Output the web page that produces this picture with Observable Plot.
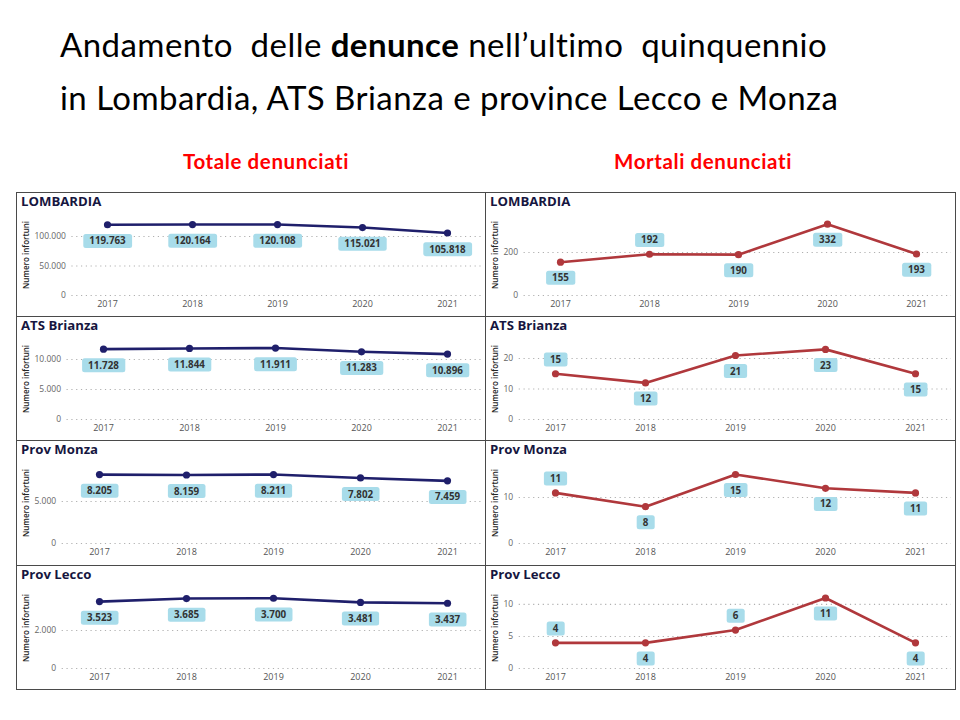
<!DOCTYPE html>
<html><head><meta charset="utf-8">
<script src="https://cdn.jsdelivr.net/npm/d3@7"></script>
<script src="https://cdn.jsdelivr.net/npm/@observablehq/plot@0.6"></script>
<style>
body{margin:0;background:#fff;}
#root{position:relative;width:960px;height:720px;overflow:hidden;font-family:"Open Sans",sans-serif;background:#fff;}
.title{position:absolute;left:60px;font-family:Lato,sans-serif;font-size:33px;line-height:33px;letter-spacing:0.45px;color:#000;white-space:pre;}
.colhead{position:absolute;font-family:Lato,sans-serif;font-weight:700;font-size:20.5px;line-height:21px;letter-spacing:0.6px;color:#ff0000;transform:translateX(-50%);white-space:nowrap;}
.frame{position:absolute;border:1px solid #4a4a4a;box-sizing:border-box;}
.ptitle{position:absolute;font-family:"Open Sans",sans-serif;font-weight:700;font-size:13.2px;line-height:13px;color:#161640;white-space:nowrap;}
.chart{position:absolute;}
</style></head><body><div id="root"></div>
<script>
// ---- data ----
const years = ["2017", "2018", "2019", "2020", "2021"];
const areas = ["LOMBARDIA", "ATS Brianza", "Prov Monza", "Prov Lecco"];
const totLombardia = [119763, 120164, 120108, 115021, 105818];
const totATS = [11728, 11844, 11911, 11283, 10896];
const totMonza = [8205, 8159, 8211, 7802, 7459];
const totLecco = [3523, 3685, 3700, 3481, 3437];
const mortLombardia = [155, 192, 190, 332, 193];
const mortATS = [15, 12, 21, 23, 15];
const mortMonza = [11, 8, 15, 12, 11];
const mortLecco = [4, 4, 6, 11, 4];
const ticksTot = [[0, 50000, 100000], [0, 5000, 10000], [0, 5000], [0, 2000]];
const ticksMort = [[0, 200], [0, 10, 20], [0, 10], [0, 5, 10]];
const yMaxTot = [127000, 12500, 8930, 3950];
const yMaxMort = [349, 24.6, 16.3, 11.7];
// which data labels of the "Mortali" charts sit above their point
const mortLabelAbove = [
  [false, true, false, false, false],
  [true, false, false, false, false],
  [true, false, false, false, false],
  [true, false, true, false, false]
];
const yTitle = "Numero infortuni";
const colTitles = ["Totale denunciati", "Mortali denunciati"];

// ---- layout ----
const root = document.getElementById("root");
const navy = "#1f1f6b", red = "#b0383c", boxFill = "#a8dcea";
const fmt = d3.formatLocale({decimal: ",", thousands: ".", grouping: [3], currency: ["", ""]}).format(",");
const ctx = document.createElement("canvas").getContext("2d");
function textW(s, font) { ctx.font = font; return ctx.measureText(s).width; }

function addDiv(cls, css, html) {
  const d = document.createElement("div");
  d.className = cls;
  Object.assign(d.style, css);
  d.innerHTML = html;
  root.appendChild(d);
  return d;
}

addDiv("title", {top: "28px"}, "Andamento  delle <b>denunce</b> nell\u2019ultimo  quinquennio");
addDiv("title", {top: "81px"}, "in Lombardia, ATS Brianza e province Lecco e Monza");
addDiv("colhead", {left: "266px", top: "151px"}, colTitles[0]);
addDiv("colhead", {left: "703px", top: "151px"}, colTitles[1]);

const rowTops = [192, 316, 440, 565, 689];
const colX = [16, 485];
const colW = [470, 471];

function panel(values, ticks, yMax, color, above, col, row) {
  const data = years.map((y, i) => ({year: y, value: values[i], above: above ? above[i] : false}));
  const top = rowTops[row], H = 124, W = 470;
  const tickFont = "8.5px 'Open Sans'";
  const maxLabel = d3.max(ticks, t => textW(fmt(t), tickFont));
  const ml = 18 + maxLabel + 6;
  const firstX = ml + 35.5, lastX = col === 0 ? 432 : 431;
  addDiv("frame", {left: colX[col] + "px", top: top + "px", width: colW[col] + "px", height: (rowTops[row + 1] - top + 1) + "px"}, "");
  const svg = Plot.plot({
    width: W, height: H,
    marginLeft: ml, marginRight: 4, marginTop: 28, marginBottom: 21,
    style: {fontFamily: "'Open Sans', sans-serif", background: "transparent", overflow: "visible"},
    x: {type: "point", domain: years, range: [firstX, lastX], padding: 0},
    y: {domain: [0, yMax]},
    marks: [
      Plot.gridY(ticks, {stroke: "#b0b0b0", strokeOpacity: 1, strokeDasharray: "1.2,3.6", strokeWidth: 1.1}),
      Plot.axisY(ticks, {tickFormat: fmt, tickSize: 0, tickPadding: 6, fontSize: 8.5, fill: "#666", label: null}),
      Plot.axisX({tickSize: 0, tickPadding: 5, fontSize: 9, fill: "#555", label: null}),
      Plot.line(data, {x: "year", y: "value", stroke: color, strokeWidth: 2.6}),
      Plot.dot(data, {x: "year", y: "value", fill: color, r: 3.6}),
      Plot.text(data.filter(d => d.above), {x: "year", y: "value", text: d => fmt(d.value), dy: -14, fontSize: 9.8, fontWeight: 700, fill: "#333", className: "lbl"}),
      Plot.text(data.filter(d => !d.above), {x: "year", y: "value", text: d => fmt(d.value), dy: col === 0 ? 16.5 : 16, fontSize: 9.8, fontWeight: 700, fill: "#333", className: "lbl"}),
      Plot.text([yTitle], {frameAnchor: "left", textAnchor: "middle", rotate: -90, dx: 10 - ml, dy: -3, fontSize: 8, fontWeight: 600, fill: "#252525"})
    ]
  });
  svg.classList.add("chart");
  svg.style.left = colX[col] + "px";
  svg.style.top = top + "px";
  svg.style.position = "absolute";
  root.appendChild(svg);
  // label boxes behind data labels
  svg.querySelectorAll("g.lbl text").forEach(t => {
    const b = t.getBBox();
    const padX = 6;
    const r = document.createElementNS("http://www.w3.org/2000/svg", "rect");
    r.setAttribute("x", b.x - padX);
    r.setAttribute("y", b.y + b.height / 2 - 7);
    r.setAttribute("width", b.width + 2 * padX);
    r.setAttribute("height", 14);
    r.setAttribute("rx", 2.5);
    r.setAttribute("fill", boxFill);
    if (t.getAttribute("transform")) r.setAttribute("transform", t.getAttribute("transform"));
    t.parentNode.insertBefore(r, t);
  });
  addDiv("ptitle", {left: (colX[col] + 5) + "px", top: (top + 3) + "px"}, areas[row]);
}

const tots = [totLombardia, totATS, totMonza, totLecco];
const morts = [mortLombardia, mortATS, mortMonza, mortLecco];
for (let r = 0; r < 4; r++) {
  panel(tots[r], ticksTot[r], yMaxTot[r], navy, null, 0, r);
  panel(morts[r], ticksMort[r], yMaxMort[r], red, mortLabelAbove[r], 1, r);
}
</script>
</body></html>
